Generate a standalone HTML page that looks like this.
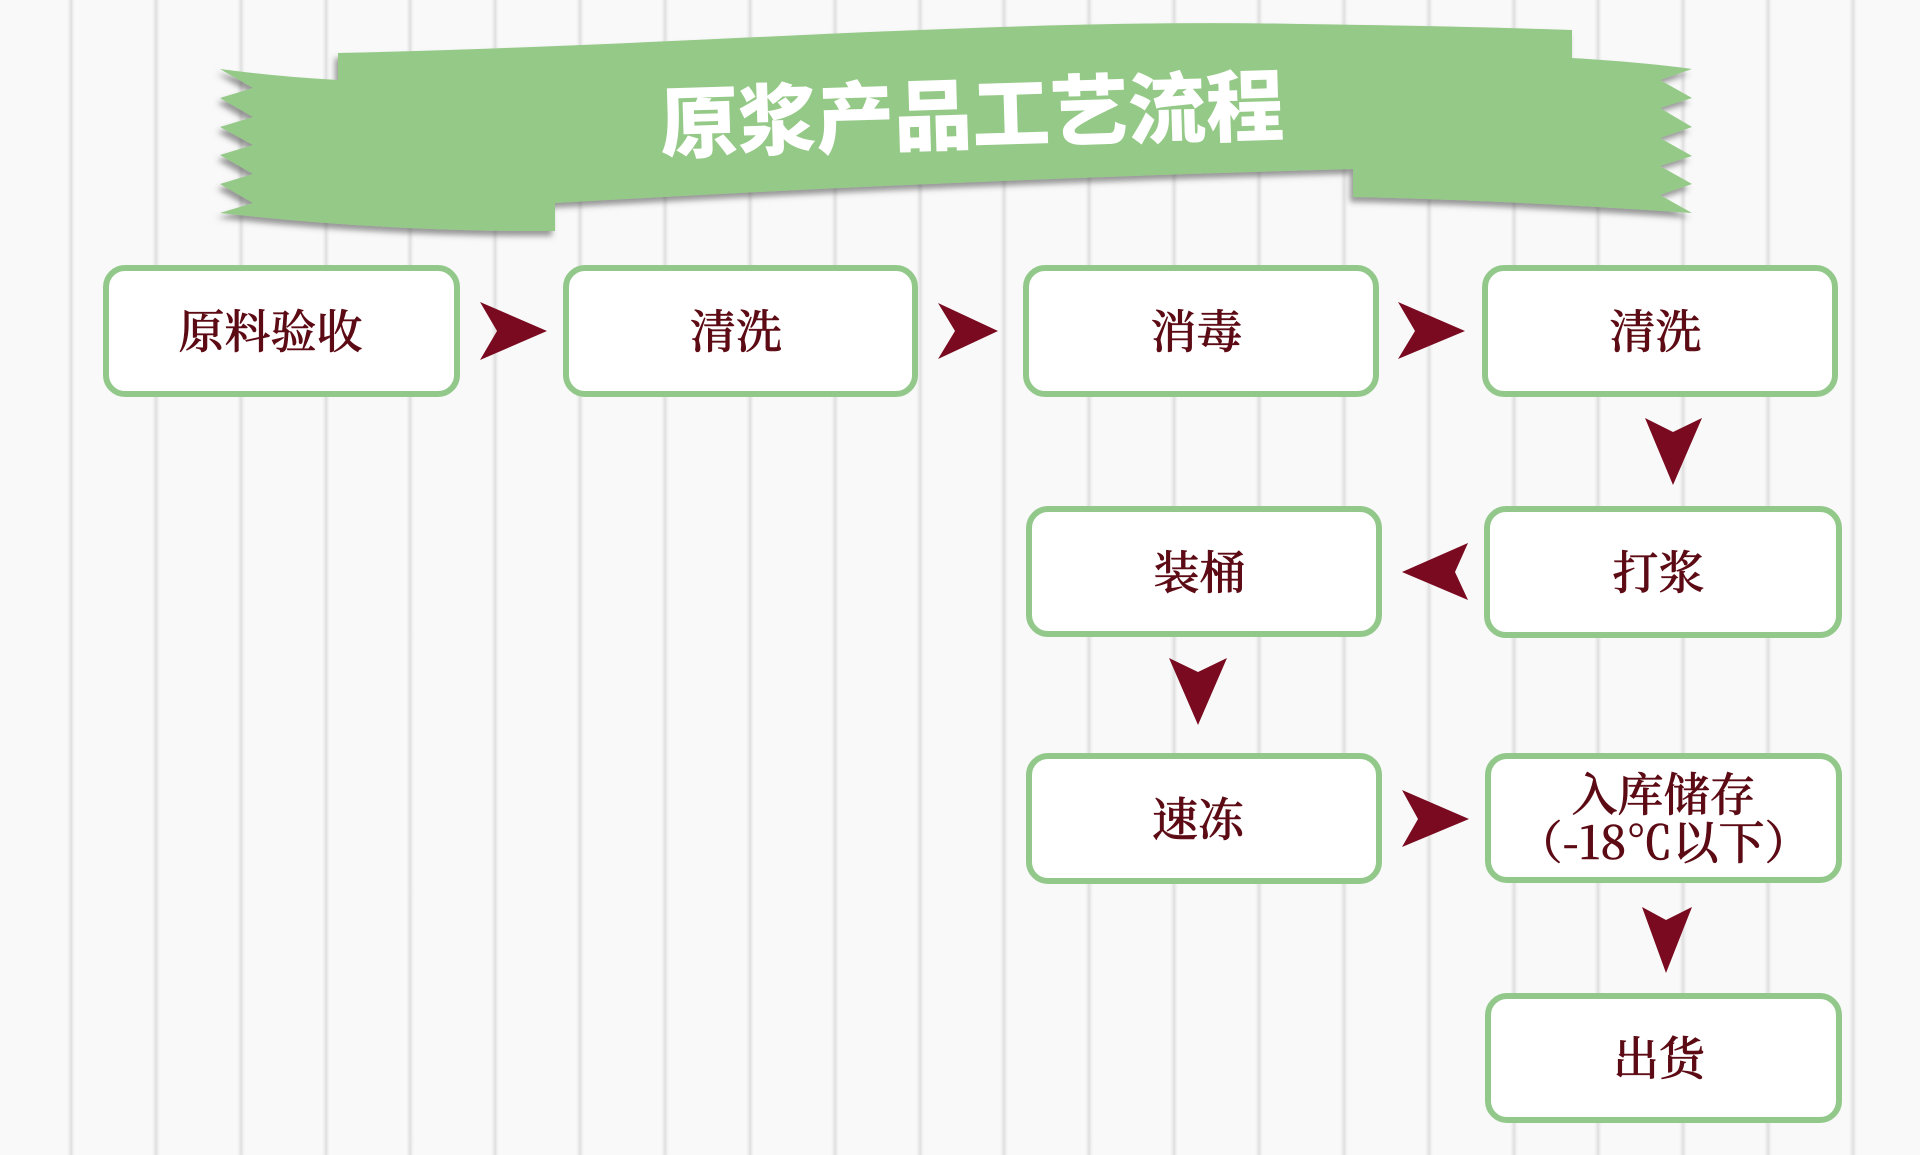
<!DOCTYPE html>
<html>
<head>
<meta charset="utf-8">
<style>
  html, body { margin:0; padding:0; }
  body {
    width:1920px; height:1155px; position:relative; overflow:hidden;
    background:#f9f9f9;
    font-family:"Liberation Serif","Noto Serif CJK SC",serif;
  }
  .ln {
    position:absolute; top:0; height:1155px; width:8px; margin-left:-4px;
    background:linear-gradient(90deg, rgba(0,0,0,0) 0%, #efefef 25%, #e3e3e3 45%, #e1e1e1 55%, #efefef 75%, rgba(0,0,0,0) 100%);
  }
  .box {
    position:absolute; box-sizing:border-box;
    border:6px solid #92c98a; border-radius:22px; background:#ffffff;
    display:flex; align-items:center; justify-content:center; flex-direction:column;
    color:#5c0a14; font-size:46px; font-weight:500; line-height:1;
    font-family:"Noto Serif CJK SC","Liberation Serif",serif;
    -webkit-text-stroke:0.6px #5c0a14;
    padding-right:9px; padding-bottom:4px;
  }
  .box .two { line-height:48px; text-align:center; }
  svg.ov { position:absolute; left:0; top:0; }
</style>
</head>
<body>
  <div class="ln" style="left:71px"></div>
  <div class="ln" style="left:156px"></div>
  <div class="ln" style="left:241px"></div>
  <div class="ln" style="left:326px"></div>
  <div class="ln" style="left:410px"></div>
  <div class="ln" style="left:495px"></div>
  <div class="ln" style="left:580px"></div>
  <div class="ln" style="left:665px"></div>
  <div class="ln" style="left:750px"></div>
  <div class="ln" style="left:835px"></div>
  <div class="ln" style="left:920px"></div>
  <div class="ln" style="left:1004px"></div>
  <div class="ln" style="left:1089px"></div>
  <div class="ln" style="left:1174px"></div>
  <div class="ln" style="left:1259px"></div>
  <div class="ln" style="left:1344px"></div>
  <div class="ln" style="left:1429px"></div>
  <div class="ln" style="left:1514px"></div>
  <div class="ln" style="left:1598px"></div>
  <div class="ln" style="left:1683px"></div>
  <div class="ln" style="left:1768px"></div>
  <div class="ln" style="left:1853px"></div>

  <svg class="ov" width="1920" height="1155" viewBox="0 0 1920 1155" xmlns="http://www.w3.org/2000/svg">
    <defs>
      <filter id="sh" x="-10%" y="-20%" width="120%" height="150%">
        <feDropShadow dx="-3" dy="5" stdDeviation="3" flood-color="#4a4a4a" flood-opacity="0.55"/>
      </filter>
    </defs>
    <path filter="url(#sh)" fill="#95c987" d="
      M220,69 Q280,77 338,80 L338,53
      C700,45 1000,18 1300,24 Q1450,26 1572,30
      L1572,58 Q1640,62 1692,69
      L1660,80 L1692,98 L1660,108 L1692,127 L1660,138 L1692,156 L1660,166 L1692,184 L1660,195 L1692,213
      Q1500,200 1353,197 L1353,169
      Q950,180 555,203 L555,231
      Q390,232 220,213
      L253,203 L220,184 L253,174 L220,155 L253,145 L220,127 L253,117 L220,98 L253,88 Z"/>
    <text x="972" y="143" text-anchor="middle" transform="rotate(-1.7 972 115)"
      font-family="'Noto Sans CJK SC','WenQuanYi Zen Hei',sans-serif" font-weight="900"
      font-size="78" fill="#ffffff">原浆产品工艺流程</text>

    <g fill="#7a0a20">
      <polygon points="480,302 547,331 480,360 497,331"/>
      <polygon points="938,303 998,331 938,359 955,331"/>
      <polygon points="1398,302 1465,331 1398,359 1415,331"/>
      <polygon points="1645,418 1673,432 1702,418 1673,485"/>
      <polygon points="1402,572 1468,543 1455,572 1468,600"/>
      <polygon points="1169,658 1198,672 1227,658 1198,725"/>
      <polygon points="1402,790 1469,819 1402,847 1418,819"/>
      <polygon points="1642,907 1666,920 1692,907 1666,973"/>
    </g>
  </svg>

  <div class="box" style="left:103px;top:265px;width:357px;height:132px;padding-right:22px;">原料验收</div>
  <div class="box" style="left:563px;top:265px;width:355px;height:132px;">清洗</div>
  <div class="box" style="left:1023px;top:265px;width:356px;height:132px;">消毒</div>
  <div class="box" style="left:1482px;top:265px;width:356px;height:132px;">清洗</div>

  <div class="box" style="left:1026px;top:506px;width:356px;height:131px;">装桶</div>
  <div class="box" style="left:1484px;top:506px;width:358px;height:132px;">打浆</div>

  <div class="box" style="left:1026px;top:753px;width:356px;height:131px;padding-right:12px;">速冻</div>
  <div class="box" style="left:1485px;top:753px;width:357px;height:130px;padding-right:0;"><div class="two">入库储存<br>（-18℃以下）</div></div>

  <div class="box" style="left:1485px;top:993px;width:357px;height:130px;">出货</div>
</body>
</html>
